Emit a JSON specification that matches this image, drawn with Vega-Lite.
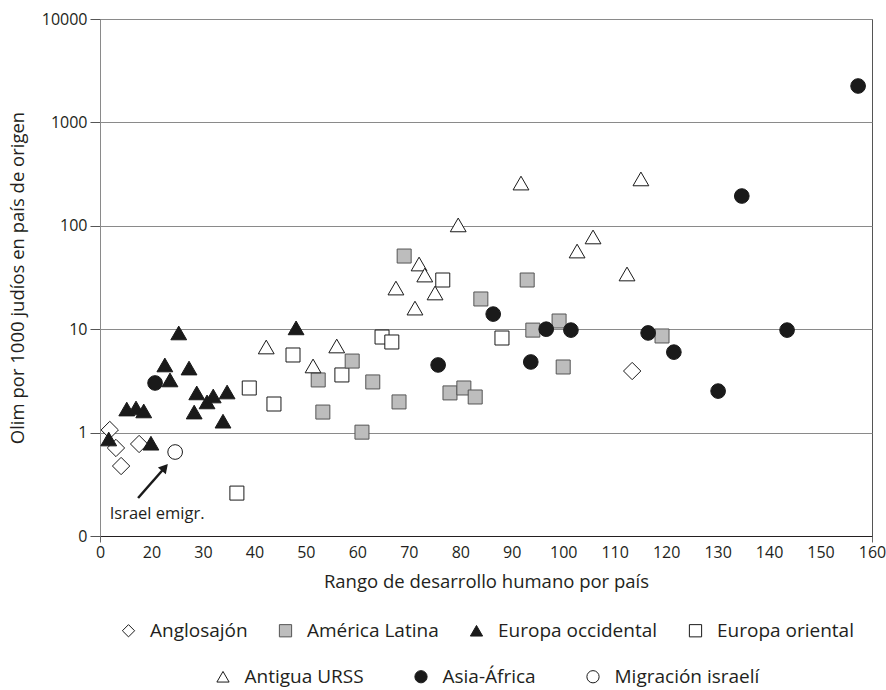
{
  "$schema": "https://vega.github.io/schema/vega-lite/v6.json",
  "width": 772,
  "height": 517,
  "autosize": {"type": "none"},
  "padding": {"left": 100, "top": 19, "right": 14, "bottom": 154},
  "background": "white",
  "datasets": {
    "puntos": [
      {"g": "Anglosajón", "x": 11.9, "y": 1.06},
      {"g": "Anglosajón", "x": 13.1, "y": 0.71},
      {"g": "Anglosajón", "x": 14.1, "y": 0.475},
      {"g": "Anglosajón", "x": 17.6, "y": 0.776},
      {"g": "Anglosajón", "x": 113.4, "y": 3.94},
      {"g": "Europa oriental", "x": 36.6, "y": 0.26},
      {"g": "Europa oriental", "x": 39.0, "y": 2.7},
      {"g": "Europa oriental", "x": 43.8, "y": 1.89},
      {"g": "Europa oriental", "x": 47.5, "y": 5.63},
      {"g": "Europa oriental", "x": 57.0, "y": 3.61},
      {"g": "Europa oriental", "x": 64.8, "y": 8.4},
      {"g": "Europa oriental", "x": 66.7, "y": 7.52},
      {"g": "Europa oriental", "x": 76.6, "y": 29.9},
      {"g": "Europa oriental", "x": 88.1, "y": 8.22},
      {"g": "América Latina", "x": 59.0, "y": 4.92},
      {"g": "América Latina", "x": 52.4, "y": 3.23},
      {"g": "América Latina", "x": 63.0, "y": 3.09},
      {"g": "América Latina", "x": 68.1, "y": 1.98},
      {"g": "América Latina", "x": 53.3, "y": 1.58},
      {"g": "América Latina", "x": 60.9, "y": 1.01},
      {"g": "América Latina", "x": 69.1, "y": 51},
      {"g": "América Latina", "x": 84.0, "y": 19.6},
      {"g": "América Latina", "x": 93.0, "y": 29.9},
      {"g": "América Latina", "x": 94.1, "y": 9.8},
      {"g": "América Latina", "x": 99.2, "y": 12.0},
      {"g": "América Latina", "x": 100.0, "y": 4.31},
      {"g": "América Latina", "x": 78.0, "y": 2.42},
      {"g": "América Latina", "x": 80.7, "y": 2.7},
      {"g": "América Latina", "x": 82.9, "y": 2.21},
      {"g": "América Latina", "x": 119.2, "y": 8.6},
      {"g": "Europa occidental", "x": 11.7, "y": 0.867},
      {"g": "Europa occidental", "x": 15.2, "y": 1.69},
      {"g": "Europa occidental", "x": 17.0, "y": 1.73},
      {"g": "Europa occidental", "x": 18.5, "y": 1.62},
      {"g": "Europa occidental", "x": 19.9, "y": 0.79},
      {"g": "Europa occidental", "x": 22.6, "y": 4.51},
      {"g": "Europa occidental", "x": 23.6, "y": 3.23},
      {"g": "Europa occidental", "x": 27.3, "y": 4.21},
      {"g": "Europa occidental", "x": 28.3, "y": 1.58},
      {"g": "Europa occidental", "x": 28.8, "y": 2.42},
      {"g": "Europa occidental", "x": 30.8, "y": 1.98},
      {"g": "Europa occidental", "x": 32.0, "y": 2.26},
      {"g": "Europa occidental", "x": 33.9, "y": 1.29},
      {"g": "Europa occidental", "x": 34.7, "y": 2.47},
      {"g": "Europa occidental", "x": 25.3, "y": 9.2},
      {"g": "Europa occidental", "x": 48.1, "y": 10.3},
      {"g": "Antigua URSS", "x": 42.3, "y": 6.73},
      {"g": "Antigua URSS", "x": 56.0, "y": 6.88},
      {"g": "Antigua URSS", "x": 51.4, "y": 4.41},
      {"g": "Antigua URSS", "x": 67.5, "y": 25.0},
      {"g": "Antigua URSS", "x": 71.2, "y": 16.0},
      {"g": "Antigua URSS", "x": 72.0, "y": 42.7},
      {"g": "Antigua URSS", "x": 73.1, "y": 33.4},
      {"g": "Antigua URSS", "x": 75.1, "y": 22.4},
      {"g": "Antigua URSS", "x": 79.6, "y": 102},
      {"g": "Antigua URSS", "x": 91.8, "y": 259},
      {"g": "Antigua URSS", "x": 102.7, "y": 57},
      {"g": "Antigua URSS", "x": 105.8, "y": 78},
      {"g": "Antigua URSS", "x": 112.4, "y": 34.2},
      {"g": "Antigua URSS", "x": 115.1, "y": 284},
      {"g": "Asia-África", "x": 20.7, "y": 3.02},
      {"g": "Asia-África", "x": 75.7, "y": 4.51},
      {"g": "Asia-África", "x": 86.4, "y": 14.0},
      {"g": "Asia-África", "x": 93.7, "y": 4.82},
      {"g": "Asia-África", "x": 96.7, "y": 10.0},
      {"g": "Asia-África", "x": 101.5, "y": 9.8},
      {"g": "Asia-África", "x": 116.5, "y": 9.2},
      {"g": "Asia-África", "x": 121.5, "y": 6.0},
      {"g": "Asia-África", "x": 130.1, "y": 2.52},
      {"g": "Asia-África", "x": 134.7, "y": 194},
      {"g": "Asia-África", "x": 143.5, "y": 9.8},
      {"g": "Asia-África", "x": 157.3, "y": 2249},
      {"g": "Migración israelí", "x": 24.6, "y": 0.649}
    ],
    "flecha": [
      {"x": 17.4, "y": 0.233, "x2": 22.6, "y2": 0.46, "texto": "Israel emigr.", "tx": 21.1, "ty": 0.163}
    ]
  },
  "layer": [
    {
      "data": {"name": "puntos"},
      "transform": [{"filter": {"field": "g", "oneOf": ["Anglosajón", "América Latina", "Europa occidental", "Europa oriental"]}}],
      "mark": {"type": "point", "opacity": 1, "fillOpacity": 1, "strokeWidth": 1},
      "encoding": {
        "x": {"field": "x", "type": "quantitative",
          "scale": {"domain": [10, 160], "nice": false, "zero": false},
          "axis": {"values": [10, 20, 30, 40, 50, 60, 70, 80, 90, 100, 110, 120, 130, 140, 150, 160],
            "labelExpr": "datum.value == 10 ? '0' : datum.label",
            "title": "Rango de desarrollo humano por país",
            "grid": false, "domainColor": "#231f20", "tickSize": 6,
            "tickColor": {"condition": {"test": "datum.value == 10 || datum.value == 160", "value": "#666666"}, "value": "transparent"},
            "labelPadding": 2, "titlePadding": 12, "labelFlush": false}},
        "y": {"field": "y", "type": "quantitative",
          "scale": {"type": "log", "domain": [0.1, 10000], "nice": false},
          "axis": {"values": [0.1, 1, 10, 100, 1000, 10000],
            "labelExpr": "datum.value < 0.5 ? '0' : format(datum.value, 'd')",
            "title": "Olim por 1000 judíos en país de origen",
            "grid": true, "gridColor": "#8a8a8a", "gridWidth": 1, "gridOpacity": 1,
            "domainColor": "#8a8a8a", "tickColor": "#555555", "tickSize": 10,
            "labelPadding": 3, "titleX": -73}},
        "shape": {"field": "g", "type": "nominal",
          "scale": {"domain": ["Anglosajón", "América Latina", "Europa occidental", "Europa oriental"], "range": ["diamond", "square", "triangle-up", "square"]},
          "legend": {"title": null, "orient": "bottom", "direction": "horizontal", "columnPadding": 28}},
        "fill": {"field": "g", "type": "nominal",
          "scale": {"domain": ["Anglosajón", "América Latina", "Europa occidental", "Europa oriental"], "range": ["#ffffff", "#bdbdbd", "#1a1a1a", "#ffffff"]},
          "legend": {"title": null, "orient": "bottom", "direction": "horizontal", "columnPadding": 28}},
        "stroke": {"field": "g", "type": "nominal",
          "scale": {"domain": ["Anglosajón", "América Latina", "Europa occidental", "Europa oriental"], "range": ["#1a1a1a", "#555555", "#1a1a1a", "#1a1a1a"]},
          "legend": {"title": null, "orient": "bottom", "direction": "horizontal", "columnPadding": 28}},
        "size": {"field": "g", "type": "nominal",
          "scale": {"type": "ordinal", "domain": ["Europa oriental", "Anglosajón", "América Latina", "Europa occidental"], "range": [196, 300, 196, 250]},
          "legend": null}
      }
    },
    {
      "data": {"name": "puntos"},
      "transform": [{"filter": {"field": "g", "oneOf": ["Antigua URSS", "Asia-África", "Migración israelí"]}}],
      "mark": {"type": "point", "opacity": 1, "fillOpacity": 1, "strokeWidth": 1},
      "encoding": {
        "x": {"field": "x", "type": "quantitative"},
        "y": {"field": "y", "type": "quantitative"},
        "shape": {"field": "g", "type": "nominal",
          "scale": {"domain": ["Antigua URSS", "Asia-África", "Migración israelí"], "range": ["triangle-up", "circle", "circle"]},
          "legend": {"title": null, "orient": "bottom", "direction": "horizontal", "columnPadding": 47}},
        "fill": {"field": "g", "type": "nominal",
          "scale": {"domain": ["Antigua URSS", "Asia-África", "Migración israelí"], "range": ["#ffffff", "#1a1a1a", "#ffffff"]},
          "legend": {"title": null, "orient": "bottom", "direction": "horizontal", "columnPadding": 47}},
        "stroke": {"field": "g", "type": "nominal",
          "scale": {"domain": ["Antigua URSS", "Asia-África", "Migración israelí"], "range": ["#1a1a1a", "#1a1a1a", "#1a1a1a"]},
          "legend": {"title": null, "orient": "bottom", "direction": "horizontal", "columnPadding": 47}},
        "size": {"field": "g", "type": "nominal",
          "scale": {"type": "ordinal", "domain": ["Migración israelí", "Antigua URSS", "Asia-África"], "range": [215, 250, 215]},
          "legend": null}
      }
    },
    {
      "data": {"name": "flecha"},
      "mark": {"type": "rule", "color": "#1a1a1a", "strokeWidth": 2.5},
      "encoding": {
        "x": {"field": "x", "type": "quantitative"},
        "y": {"field": "y", "type": "quantitative"},
        "x2": {"field": "x2"},
        "y2": {"field": "y2"}
      }
    },
    {
      "data": {"name": "flecha"},
      "mark": {"type": "point", "shape": "triangle-up", "filled": true, "color": "#1a1a1a", "opacity": 1, "size": 110, "angle": 41},
      "encoding": {
        "x": {"field": "x2", "type": "quantitative"},
        "y": {"field": "y2", "type": "quantitative"}
      }
    },
    {
      "data": {"name": "flecha"},
      "mark": {"type": "text", "fontSize": 16.5, "font": "Open Sans", "color": "#231f20", "align": "center", "baseline": "middle"},
      "encoding": {
        "x": {"field": "tx", "type": "quantitative"},
        "y": {"field": "ty", "type": "quantitative"},
        "text": {"field": "texto"}
      }
    }
  ],
  "resolve": {"scale": {"shape": "independent", "fill": "independent", "stroke": "independent", "size": "independent"}},
  "config": {
    "font": "Open Sans",
    "view": {"stroke": "#555555", "strokeWidth": 1},
    "axis": {"labelFont": "Open Sans", "titleFont": "Open Sans", "labelFontSize": 16, "titleFontSize": 18.5, "labelColor": "#231f20", "titleColor": "#231f20", "titleFontWeight": "normal"},
    "legend": {
      "labelFont": "Open Sans", "labelFontSize": 19, "labelColor": "#231f20",
      "symbolSize": 150, "symbolStrokeWidth": 1, "labelOffset": 12,
      "offset": 30, "padding": 0,
      "layout": {"bottom": {"anchor": "middle", "direction": "vertical", "center": true, "margin": 26}}
    }
  }
}
